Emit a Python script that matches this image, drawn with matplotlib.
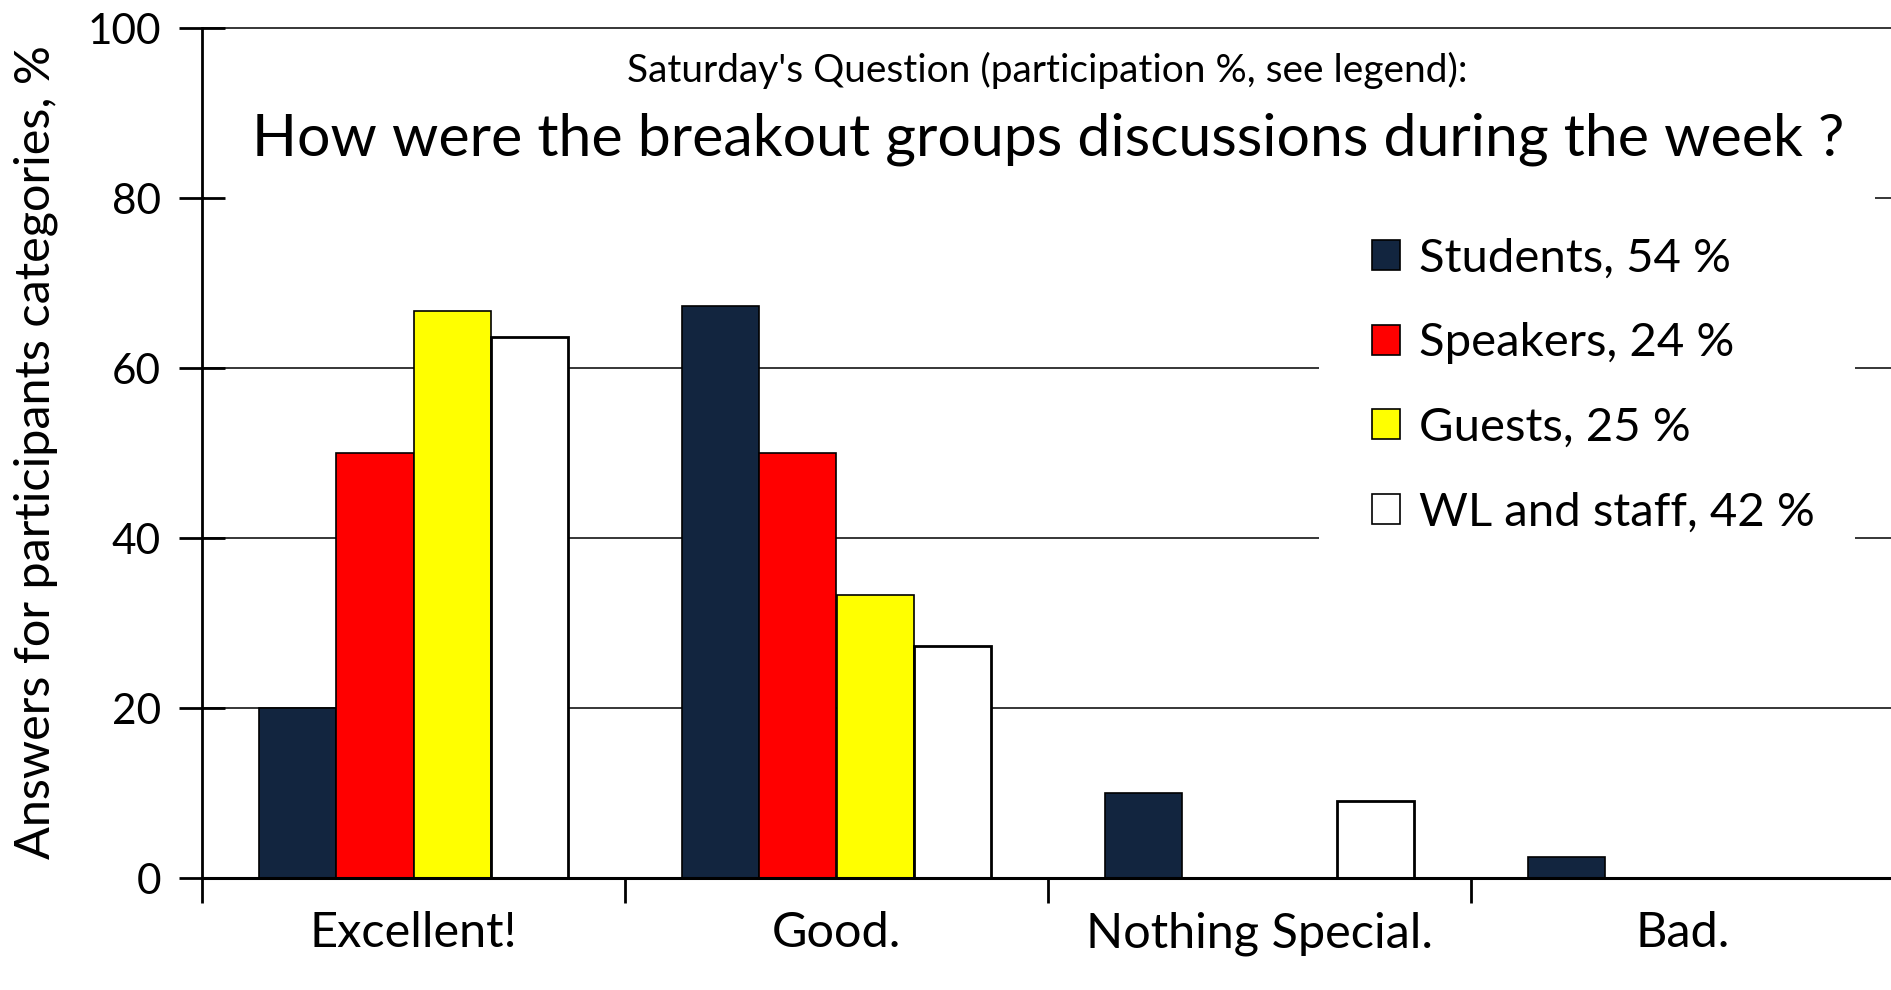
import numpy as np
import matplotlib; matplotlib.use('Agg')
import matplotlib.pyplot as plt
from matplotlib.patches import Rectangle, Patch

plt.rcParams['font.family'] = ['Lato', 'DejaVu Sans']

# data
categories = ['Excellent!', 'Good.', 'Nothing Special.', 'Bad.']
groups = ['Students, 54 %', 'Speakers, 24 %', 'Guests, 25 %', 'WL and staff, 42 %']
students = [20.0, 67.3, 10.0, 2.5]
speakers = [50.0, 50.0, 0, 0]
guests = [66.7, 33.3, 0, 0]
wl_staff = [63.6, 27.3, 9.1, 0]
series = [students, speakers, guests, wl_staff]
colors = ['#12253f', '#ff0000', '#ffff00', '#ffffff']
yticks = [0, 20, 40, 60, 80, 100]

W, H = 1891, 990
fig = plt.figure(figsize=(W/100., H/100.), dpi=100)
# axes box in pixels: left 202, right 1894, bottom 878, top 28
ax = fig.add_axes([202./W, (H-878.)/H, 1692./W, 850./H])

x = np.arange(len(categories))
bw = 0.183
for k, vals in enumerate(series):
    pos = x + (k-1.5)*bw
    lw = 2.0 if colors[k] == '#ffffff' else 1.2
    ax.bar(pos, vals, bw, color=colors[k], edgecolor='black', linewidth=lw, zorder=2)

ax.set_xlim(-0.5, len(categories)-0.5)
ax.set_ylim(0, 100)

# gridlines drawn by hand so the white boxes can hide parts of them
ax.hlines(yticks[1:], -0.5, len(categories)-0.5, colors='black', linewidth=1.1,
          zorder=0.5, clip_on=False)

# white boxes behind title and legend
ax.add_patch(Rectangle((0.002, 0.79), 0.987, 0.195, transform=ax.transAxes,
                       facecolor='white', edgecolor='none', zorder=1))
ax.add_patch(Rectangle((0.660, 0.327), 0.317, 0.453, transform=ax.transAxes,
                       facecolor='white', edgecolor='none', zorder=1))

ax.set_yticks(yticks)
ax.tick_params(axis='y', direction='inout', length=33, width=2, labelsize=30.5, pad=13)
ax.set_xticks(np.arange(len(categories)+1)-0.5)
ax.set_xticklabels([])
ax.set_xticks(x, minor=True)
ax.set_xticklabels(categories, minor=True)
ax.tick_params(axis='x', which='major', direction='out', length=18, width=2)
ax.tick_params(axis='x', which='minor', length=0, labelsize=35, pad=24)

ax.spines['top'].set_visible(False)
ax.spines['right'].set_visible(False)
ax.spines['left'].set_linewidth(2)
ax.spines['bottom'].set_linewidth(2.2)

fig.text(36./W, 1-452./H, 'Answers for participants categories, %', rotation=90,
         ha='center', va='center', fontsize=35)

fig.text(1047./W, 1-70./H, "Saturday's Question (participation %, see legend):",
         ha='center', va='center', fontsize=28)
fig.text(1048./W, 1-139./H, 'How were the breakout groups discussions during the week ?',
         ha='center', va='center', fontsize=42.5)

handles = [Patch(facecolor=c, edgecolor='black', linewidth=1.2) for c in colors]
fig.legend(handles, groups, loc='upper left', bbox_to_anchor=(1372./W, 1-238./H),
           frameon=False, fontsize=34, handlelength=0.6, handleheight=0.6,
           handletextpad=0.4, labelspacing=0.90, borderpad=0, borderaxespad=0)

fig.savefig('out.png', dpi=100)
